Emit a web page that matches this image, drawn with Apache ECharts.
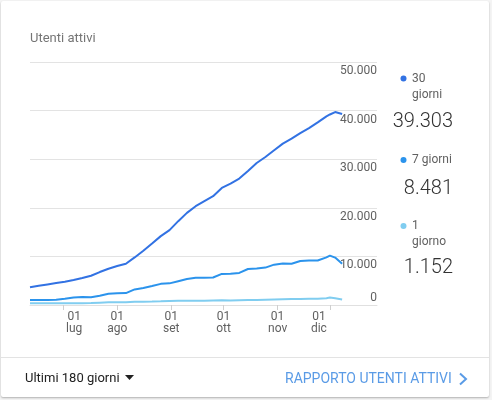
<!DOCTYPE html>
<html>
<head>
<meta charset="utf-8">
<script src="https://cdn.jsdelivr.net/npm/echarts@6/dist/echarts.min.js"></script>
<style>
  html, body { margin:0; padding:0; width:492px; height:400px; background:#f4f4f4; overflow:hidden; font-family: Roboto, "Noto Sans", sans-serif; }
  #card { position:absolute; left:1px; top:1px; width:488px; height:396px; background:#fff; border-radius:2px; box-shadow:0 1px 2px rgba(0,0,0,0.28); }
  #divider { position:absolute; left:1px; top:357px; width:488px; height:1px; background:#e3e3e3; }
  #chart { position:absolute; left:0; top:0; width:492px; height:400px; }
  .foot { position:absolute; top:370px; line-height:16px; white-space:nowrap; }
  #range { left:25px; font-size:13px; color:#212121; }
  #report { left:285px; font-size:14px; color:#5a9be6; }
  #tri { position:absolute; left:125px; top:375px; }
  #chev { position:absolute; left:457px; top:372px; }
</style>
</head>
<body>
<div id="card"></div>
<div id="divider"></div>
<div id="chart"></div>
<div class="foot" id="range">Ultimi 180 giorni</div>
<svg id="tri" width="9" height="5"><polygon points="0,0 9,0 4.5,5" fill="#212121"/></svg>
<div class="foot" id="report">RAPPORTO UTENTI ATTIVI</div>
<svg id="chev" width="12" height="14"><polyline points="3,1.5 9,7 3,12.5" fill="none" stroke="#5a9be6" stroke-width="2"/></svg>
<script>
// ---- data ----
const dates = ['2019-06-12','2019-06-17','2019-06-22','2019-06-27','2019-07-02','2019-07-07','2019-07-12','2019-07-17','2019-07-22','2019-07-27',
  '2019-08-01','2019-08-06','2019-08-11','2019-08-16','2019-08-21','2019-08-26','2019-08-31','2019-09-05','2019-09-10','2019-09-15',
  '2019-09-20','2019-09-25','2019-09-30','2019-10-05','2019-10-10','2019-10-15','2019-10-20','2019-10-25','2019-10-30','2019-11-04',
  '2019-11-09','2019-11-14','2019-11-19','2019-11-24','2019-11-29','2019-12-01','2019-12-04','2019-12-08'];
const users30 = [3630,3960,4240,4520,4790,5130,5540,6020,6780,7460,
  8010,8480,9790,11160,12660,14170,15400,17250,18960,20330,
  21360,22380,24090,24990,26010,27580,29220,30450,31830,33200,
  34230,35380,36410,37580,38810,39200,39700,39303];
const users7 = [1030,1030,1030,1100,1300,1550,1650,1600,1900,2300,
  2400,2450,3200,3500,3900,4350,4450,4900,5350,5600,
  5610,5650,6400,6450,6600,7400,7500,7700,8300,8550,
  8480,9050,9150,9150,9800,10150,9750,8481];
const users1 = [340,340,340,340,340,340,340,400,480,550,
  550,560,680,680,700,750,820,880,880,900,
  900,950,1000,950,1000,1050,1050,1100,1150,1200,
  1250,1250,1300,1300,1400,1550,1400,1152];
const seriesNames = ['30 giorni','7 giorni','1 giorno'];
const legendLabels = ['30\ngiorni','7 giorni','1\ngiorno'];
const monthTickDates = ['2019-07-01','2019-08-01','2019-09-01','2019-10-01','2019-11-01','2019-12-01'];
const monthLabels = ['lug','ago','set','ott','nov','dic'];
const dayLabel = '01';
const xStartDate = '2019-06-12';
const xEndDate = '2019-12-28';
const yTicks = [0,10000,20000,30000,40000,50000];

// ---- helpers / styling ----
const colors = ['#3272e3','#2b93ec','#80cdf0'];
const FONT = 'Roboto, "Noto Sans", sans-serif';
const fmt = v => String(v).replace(/\B(?=(\d{3})+(?!\d))/g, '.');
const dayNum = s => { const [y, m, d] = s.split('-').map(Number); return Math.round(Date.UTC(y, m - 1, d) / 86400000); };
const d0 = dayNum(xStartDate);
const dayOff = s => dayNum(s) - d0;
const monthTicks = monthTickDates.map(dayOff);
const toPairs = arr => arr.map((v, i) => [dayOff(dates[i]), v]);

const chart = echarts.init(document.getElementById('chart'), null, {renderer:'canvas'});
const allSeries = [users30, users7, users1];

const legendY = [[78.5, 71, 122], [160, 152, 189], [226, 218, 268]];
const graphic = [];
allSeries.forEach((arr, i) => {
  const [dotY, textTop, valY] = legendY[i];
  graphic.push({type:'circle', shape:{cx:403.5, cy:dotY, r:3}, style:{fill:colors[i]}});
  graphic.push({type:'text', style:{x:412, y:textTop, text:legendLabels[i], fontSize:12, lineHeight:16,
    fontFamily:FONT, fill:'#616161', verticalAlign:'top', align:'left'}});
  graphic.push({type:'text', style:{x:453, y:valY, text:fmt(arr[arr.length-1]), fontSize:20, fontWeight:300,
    fontFamily:FONT, fill:'#333333', verticalAlign:'middle', align:'right'}});
});

const labBase = {fontSize:12, color:'#616161', lineHeight:12, fontFamily:FONT};
chart.setOption({
  animation:false,
  textStyle:{fontFamily:FONT},
  title:{text:'Utenti attivi', left:25, top:26, textStyle:{fontSize:13, fontWeight:'normal', color:'#757575', lineHeight:15}},
  grid:{left:30, right:115, top:62, bottom:95},
  xAxis:{
    type:'value',
    min:0, max:dayOff(xEndDate),
    axisLine:{show:true, lineStyle:{color:'#e0e0e0'}},
    axisTick:{show:true, customValues:monthTicks, length:5, lineStyle:{color:'#cfcfcf'}},
    splitLine:{show:false},
    axisLabel:{
      customValues:monthTicks, margin:6, hideOverlap:false, showMinLabel:true, showMaxLabel:true,
      formatter:(v) => {
        const i = monthTicks.indexOf(Math.round(v));
        if (i < 0) return '';
        const m = monthLabels[i];
        if (i === 0) return '{sp| }{l|' + dayLabel + '}\n{sp| }{l|' + m + '}';
        if (i === monthTicks.length - 1) return '{r|' + dayLabel + '}{sp| }\n{r|' + m + '}{sp| }';
        return '{c|' + dayLabel + '}\n{c|' + m + '}';
      },
      rich:{
        c:Object.assign({}, labBase),
        sp:Object.assign({}, labBase, {width:22}),
        l:Object.assign({}, labBase, {width:22, align:'left'}),
        r:Object.assign({}, labBase, {width:22, align:'right'})
      }
    }
  },
  yAxis:[{
    type:'value', min:yTicks[0], max:yTicks[yTicks.length-1], interval:yTicks[1]-yTicks[0], position:'right',
    axisLine:{show:false}, axisTick:{show:false},
    splitLine:{show:true, lineStyle:{color:'#e3e3e3'}},
    axisLabel:{inside:true, margin:0, align:'right', verticalAlign:'top', lineHeight:18, fontSize:12, color:'#616161',
      formatter:v => v === 0 ? '' : fmt(v)}
  },{
    type:'value', min:yTicks[0], max:yTicks[yTicks.length-1], interval:yTicks[1]-yTicks[0], position:'right',
    axisLine:{show:false}, axisTick:{show:false}, splitLine:{show:false},
    axisLabel:{inside:true, margin:0, align:'right', verticalAlign:'bottom', lineHeight:14, fontSize:12, color:'#616161',
      formatter:v => v === 0 ? '0' : ''}
  }],
  graphic:graphic,
  series:allSeries.map((arr, i) => ({
    name:seriesNames[i], type:'line', yAxisIndex:0, data:toPairs(arr), showSymbol:false, symbol:'none',
    lineStyle:{width:2, color:colors[i]}, itemStyle:{color:colors[i]}, z:3 - i
  }))
});
</script>
</body>
</html>
